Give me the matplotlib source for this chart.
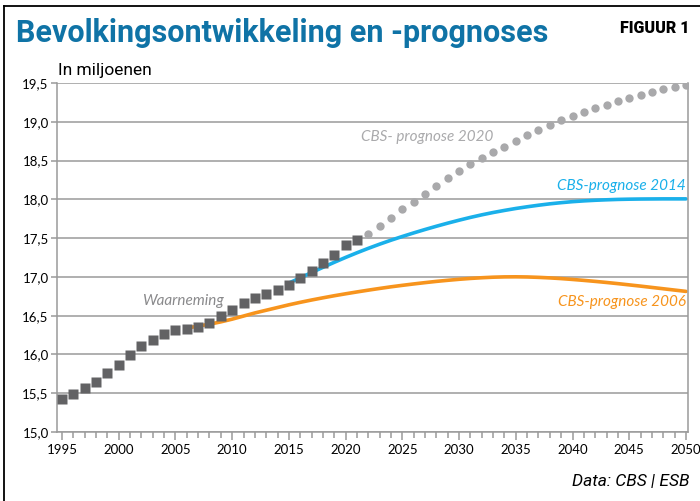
import numpy as np
import matplotlib.pyplot as plt
from matplotlib.lines import Line2D
from matplotlib.ticker import MultipleLocator

# observed population (millions)
obs_years = [*range(1995, 2022)]
obs_vals = [15.42, 15.49, 15.57, 15.65, 15.76, 15.86, 15.99, 16.11, 16.19, 16.26,
            16.31, 16.33, 16.36, 16.40, 16.49, 16.57, 16.66, 16.73, 16.78, 16.83,
            16.90, 16.98, 17.08, 17.18, 17.28, 17.41, 17.48]

# CBS forecast 2020
p20_years = [*range(2022, 2051)]
p20_vals = [17.55, 17.66, 17.76, 17.87, 17.97, 18.07, 18.17, 18.27, 18.36, 18.45,
            18.53, 18.61, 18.68, 18.75, 18.83, 18.90, 18.96, 19.02, 19.07, 19.13,
            19.18, 19.22, 19.27, 19.31, 19.35, 19.38, 19.42, 19.45, 19.48]

# CBS forecast 2014
p14_years = [*range(2015, 2051)]
p14_vals = [16.920, 16.988, 17.056, 17.123, 17.188, 17.251, 17.311, 17.368, 17.422, 17.473,
            17.521, 17.567, 17.611, 17.653, 17.693, 17.731, 17.767, 17.800, 17.830, 17.857,
            17.882, 17.904, 17.924, 17.942, 17.957, 17.970, 17.980, 17.988, 17.994, 17.999,
            18.002, 18.004, 18.005, 18.006, 18.006, 18.006]

# CBS forecast 2006
p06_years = [*range(2006, 2051)]
p06_vals = [16.340, 16.365, 16.390, 16.420, 16.455, 16.495, 16.535, 16.570, 16.605, 16.640,
            16.672, 16.702, 16.730, 16.757, 16.782, 16.806, 16.829, 16.851, 16.872, 16.891,
            16.909, 16.926, 16.942, 16.956, 16.969, 16.980, 16.989, 16.996, 17.000, 17.001,
            16.999, 16.994, 16.987, 16.978, 16.967, 16.955, 16.942, 16.928, 16.913, 16.897,
            16.881, 16.864, 16.847, 16.830, 16.813]

BLUE = '#1ab0ea'
ORANGE = '#f7941d'
DOT = '#a9a9ab'
SQ = '#626264'
GRID = '#9a9a9a'
TITLE = '#0f73a6'

plt.rcParams['font.family'] = ['Lato', 'DejaVu Sans']

fig = plt.figure(figsize=(7, 5.01), dpi=100)
ax = fig.add_axes([57/700, 1 - 432/501, (688 - 57)/700, (432 - 83)/501])

ax.plot(p06_years, p06_vals, color=ORANGE, lw=2.6, solid_capstyle='round', zorder=2)
ax.plot(p14_years, p14_vals, color=BLUE, lw=2.6, solid_capstyle='round', zorder=2)
ax.plot(p20_years, p20_vals, ls='none', marker='o', ms=6, color=DOT, mec='none', zorder=3)
ax.plot(obs_years, obs_vals, ls='none', marker='s', ms=6.8, color=SQ, mec='none', zorder=4)

ax.set_xlim(1994.56, 2050.18)
ax.set_ylim(15, 19.5)
ax.yaxis.set_major_locator(MultipleLocator(0.5))
ax.xaxis.set_major_locator(MultipleLocator(5))
ax.xaxis.set_minor_locator(MultipleLocator(1))
ax.set_yticklabels([f'{v:.1f}'.replace('.', ',') for v in ax.get_yticks()])
ax.grid(axis='y', color=GRID, lw=1.1)
ax.set_axisbelow(True)
for s in ax.spines.values():
    s.set_color(GRID)
    s.set_linewidth(1.1)
ax.spines['top'].set_visible(False)
ax.tick_params(axis='both', colors=GRID, labelcolor='black', labelsize=9.5)
ax.tick_params(axis='x', which='major', length=6, width=1.1, pad=3)
ax.tick_params(axis='x', which='minor', length=4, width=1.1, colors=GRID)
ax.tick_params(axis='y', length=4, width=1.1, pad=2)

ax.text(2005.7, 16.69, 'Waarneming', color='#8a8a8c', style='italic', fontsize=11,
        ha='center', va='center')
ax.text(2027.2, 18.80, 'CBS- prognose 2020', color='#aaaaac', style='italic', fontsize=11,
        ha='center', va='center')
ax.text(2050, 18.17, 'CBS-prognose 2014', color=BLUE, style='italic', fontsize=11,
        ha='right', va='center')
ax.text(2050, 16.68, 'CBS-prognose 2006', color=ORANGE, style='italic', fontsize=11,
        ha='right', va='center')

fig.text(16/700, 1 - 33/501, 'Bevolkingsontwikkeling en -prognoses', color=TITLE,
         fontsize=22, fontweight='bold', family=['Roboto', 'DejaVu Sans'],
         ha='left', va='center')
fig.text(690/700, 1 - 28/501, 'FIGUUR 1', fontsize=11.5, fontweight='heavy',
         ha='right', va='center', family=['Roboto', 'DejaVu Sans'])
fig.text(58/700, 1 - 70/501, 'In miljoenen', fontsize=12.5, ha='left', va='center',
         family=['Roboto', 'DejaVu Sans'])
fig.text(690/700, 1 - 482/501, 'Data: CBS | ESB', fontsize=12.5, style='italic',
         ha='right', va='center', family=['Roboto', 'DejaVu Sans'])

# partial frame around figure (left and top)
fig.add_artist(Line2D([4/700, 4/700], [0, 1 - 6/501], color='black', lw=1.3))
fig.add_artist(Line2D([4/700, 1], [1 - 6/501, 1 - 6/501], color='black', lw=1.3))

fig.savefig('out.png', dpi=100)
